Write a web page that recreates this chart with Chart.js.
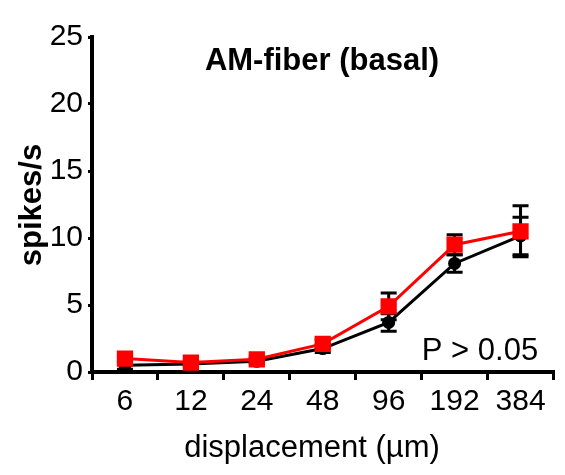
<!DOCTYPE html>
<html>
<head>
<meta charset="utf-8">
<script src="https://cdn.jsdelivr.net/npm/chart.js@4/dist/chart.umd.min.js"></script>
<style>
  html, body { margin: 0; padding: 0; background: #fff; }
  #wrap { width: 565px; height: 475px; }
</style>
</head>
<body>
<div id="wrap"><canvas id="c" width="565" height="475"></canvas></div>
<script>
const categories = ['6', '12', '24', '48', '96', '192', '384'];
const redValues   = [1.0, 0.7, 0.95, 2.1, 4.9, 9.5, 10.5];
const redErrors   = [0.25, 0.15, 0.2, 0.3, 1.0, 0.75, 1.9];
const blackValues = [0.5, 0.6, 0.8, 1.75, 3.7, 8.1, 10.15];
const blackErrors = [0.3, 0.15, 0.2, 0.3, 0.65, 0.65, 1.4];
const yTicks = [0, 5, 10, 15, 20, 25];
const titleText = 'AM-fiber (basal)';
const yTitle = 'spikes/s';
const xTitle = 'displacement (µm)';
const pText = 'P > 0.05';

const FONT = '"Liberation Sans", Arial, sans-serif';

const errorBars = {
  id: 'errorBars',
  beforeDatasetsDraw(chart) {
    const ctx = chart.ctx;
    const y = chart.scales.y;
    const sets = [[redValues, redErrors, 0], [blackValues, blackErrors, 1]];
    ctx.save();
    ctx.strokeStyle = '#000';
    ctx.lineWidth = 3;
    sets.forEach(([vals, errs, di]) => {
      const meta = chart.getDatasetMeta(di);
      vals.forEach((v, i) => {
        const px = meta.data[i].x;
        const top = y.getPixelForValue(v + errs[i]);
        const bot = y.getPixelForValue(v - errs[i]);
        ctx.beginPath();
        ctx.moveTo(px, top); ctx.lineTo(px, bot);
        ctx.moveTo(px - 8, top); ctx.lineTo(px + 8, top);
        ctx.moveTo(px - 8, bot); ctx.lineTo(px + 8, bot);
        ctx.stroke();
      });
    });
    ctx.restore();
  }
};

const texts = {
  id: 'texts',
  afterDraw(chart) {
    const ctx = chart.ctx;
    ctx.save();
    ctx.fillStyle = '#000';
    ctx.textAlign = 'center';
    ctx.textBaseline = 'alphabetic';
    ctx.font = 'bold 31px ' + FONT;
    ctx.fillText(titleText, 322, 70);
    ctx.font = '31px ' + FONT;
    ctx.fillText(xTitle, 312, 457);
    ctx.fillText(pText, 480, 360);
    ctx.translate(41, 205);
    ctx.rotate(-Math.PI / 2);
    ctx.font = 'bold 31px ' + FONT;
    ctx.fillText(yTitle, 0, 0);
    ctx.restore();
  }
};

new Chart(document.getElementById('c'), {
  type: 'line',
  data: {
    labels: categories,
    datasets: [
      {
        label: 'red',
        data: redValues,
        borderColor: '#ff0000',
        backgroundColor: '#ff0000',
        borderWidth: 3,
        pointStyle: 'rect',
        pointRadius: 11.5,
        pointBorderWidth: 0,
        tension: 0
      },
      {
        label: 'black',
        data: blackValues,
        borderColor: '#000',
        backgroundColor: '#000',
        borderWidth: 3,
        pointStyle: 'circle',
        pointRadius: 6.5,
        pointBorderWidth: 0,
        tension: 0
      }
    ]
  },
  options: {
    responsive: false,
    animation: false,
    layout: { padding: { left: 0, top: 37, right: 8, bottom: 0 } },
    plugins: { legend: { display: false }, tooltip: { enabled: false } },
    scales: {
      x: {
        type: 'category',
        offset: true,
        afterFit(s) { s.height = 103; },
        grid: { offset: true, drawOnChartArea: false, drawTicks: true, tickLength: 8, lineWidth: 3, color: '#000' },
        border: { display: true, width: 4, color: '#000' },
        ticks: { color: '#000', font: { family: FONT, size: 30 }, padding: 4, maxRotation: 0, autoSkip: false }
      },
      y: {
        min: 0, max: 25,
        afterFit(s) { s.width = 92; },
        afterBuildTicks(s) { s.ticks = yTicks.map(v => ({ value: v })); },
        grid: { drawOnChartArea: false, drawTicks: true, tickLength: 4, lineWidth: 3, color: '#000' },
        border: { display: true, width: 4, color: '#000' },
        ticks: { color: '#000', font: { family: FONT, size: 30 }, padding: 5 }
      }
    }
  },
  plugins: [errorBars, texts]
});
</script>
</body>
</html>
